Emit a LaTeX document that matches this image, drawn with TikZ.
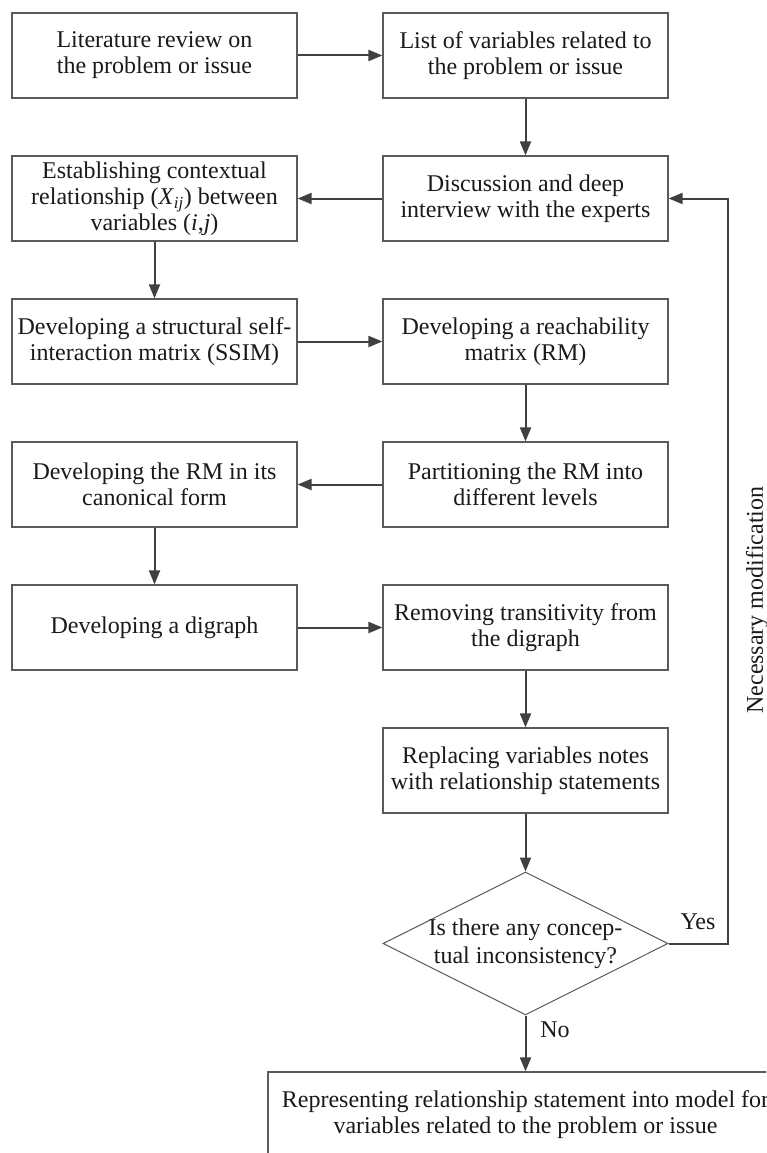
\documentclass[tikz,border=0pt]{standalone}
\usepackage{fontspec}
\setmainfont{Liberation Serif}
\usetikzlibrary{arrows.meta,shapes.geometric}
\definecolor{ln}{HTML}{404040}
\definecolor{bd}{HTML}{5A5A5A}
\definecolor{tx}{HTML}{1A1A1A}
\begin{document}
\begin{tikzpicture}[x=1pt,y=-1pt,
  font=\fontsize{24}{26}\selectfont,
  box/.style={draw=bd, line width=1.2pt, minimum width=285pt, minimum height=85pt,
    align=center, text=tx, inner sep=0pt},
  conn/.style={draw=ln, line width=2pt, -{Triangle[length=14pt,width=11pt]}},
  lab/.style={text=tx, inner sep=0pt}]
\useasboundingbox (0,0) rectangle (766,1153);
\clip (0,0) rectangle (766,1153);
\fill[white] (0,0) rectangle (766,1153);
% row 1
\node[box] (lit)  at (154.5,55.5) {Literature review on\\the problem or issue};
\node[box] (list) at (525.5,55.5) {List of variables related to\\the problem or issue};
% row 2
\node[box] (est)  at (154.5,198.5) {Establishing contextual\\relationship (\textit{X}\textsubscript{\textit{ij}}) between\\variables (\textit{i},\textit{j})};
\node[box] (disc) at (525.5,198.5) {Discussion and deep\\interview with the experts};
% row 3
\node[box] (ssim) at (154.5,341.5) {Developing a structural self-\\interaction matrix (SSIM)};
\node[box] (rm)   at (525.5,341.5) {Developing a reachability\\matrix (RM)};
% row 4
\node[box] (canon) at (154.5,484.5) {Developing the RM in its\\canonical form};
\node[box] (part)  at (525.5,484.5) {Partitioning the RM into\\different levels};
% row 5
\node[box] (digr)  at (154.5,627.5) {Developing a digraph};
\node[box] (remv)  at (525.5,627.5) {Removing transitivity from\\the digraph};
% row 6
\node[box] (repl)  at (525.5,770.5) {Replacing variables notes\\with relationship statements};
% decision
\node[diamond, draw=bd, line width=1pt, minimum width=285pt, minimum height=143pt, inner sep=0pt] (dec) at (525.5,943.5) {};
\node[lab, align=center, font=\fontsize{24}{28}\selectfont] (dect) at (525.5,943.5) {Is there any concep-\\tual inconsistency?};
% final
\node[box, minimum width=515pt] (res) at (525.5,1114.5) {Representing relationship statement into model for\\variables related to the problem or issue};
% connectors
\draw[conn] (lit) -- (list);
\draw[conn] (list) -- (disc);
\draw[conn] (disc) -- (est);
\draw[conn] (est) -- (ssim);
\draw[conn] (ssim) -- (rm);
\draw[conn] (rm) -- (part);
\draw[conn] (part) -- (canon);
\draw[conn] (canon) -- (digr);
\draw[conn] (digr) -- (remv);
\draw[conn] (remv) -- (repl);
\draw[conn] (repl) -- (dec.north);
\draw[conn] (dec.south) -- (res.north);
\coordinate (fb) at (728,943.5);
\draw[conn] (dec.east) -- (fb) |- (disc.east);
% labels
\node[lab] (yes) at (698,922) {Yes};
\node[lab] (no)  at (555,1030) {No};
\node[lab, rotate=90] (nm) at (757,600) {Necessary modification};
\end{tikzpicture}
\end{document}
